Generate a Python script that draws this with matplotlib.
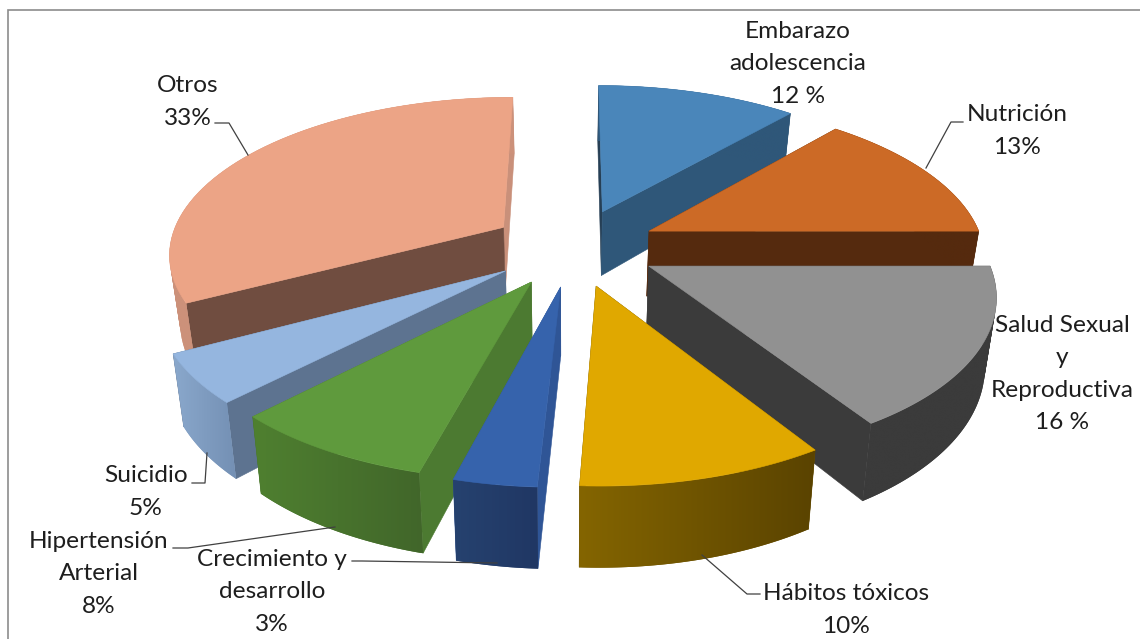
#!/usr/bin/env python3
"""Exploded 3D pie, drawn by hand with a simple perspective projection."""

import numpy as np
import matplotlib
matplotlib.use('Agg')
import matplotlib.pyplot as plt
from matplotlib.colors import to_rgb
from matplotlib.patches import PathPatch, Rectangle
from matplotlib.path import Path

# ---------------------------------------------------------------------
# DATA
# ---------------------------------------------------------------------

CATEGORIES = ['Embarazo', 'Nutrición', 'Salud', 'Hábitos', 'Crecimiento',
              'Hipertensión', 'Suicidio', 'Otros']
# the printed labels are rounded
VALUES = [11.4, 13.6, 16, 9.8, 3.3, 8.2, 4.9, 32.8]
LABELS = ['Embarazo\nadolescencia\n12 %', 'Nutrición\n13%',
          'Salud Sexual\ny\nReproductiva\n16 %', 'Hábitos tóxicos\n10%',
          'Crecimiento y\ndesarrollo\n3%', 'Hipertensión\nArterial\n8%',
          'Suicidio\n5%', 'Otros\n33%']

# ---------------------------------------------------------------------
# STYLE
# ---------------------------------------------------------------------

TOP_COLORS = ['#4a86ba', '#cc6a26', '#919191', '#e0a800', '#3663ac', '#5f9a3d', '#95b6df', '#eca486']
WALL_COLORS = ['#2f5779', '#552a0e', '#3b3b3b', '#5c4500', '#2f5596', '#4c7a31', '#5d7390', '#704d40']
BACK_WALL_COLORS = ['#263f55', '#552a0e', '#3b3b3b', '#5c4500', '#2f5596', '#4c7a31', '#5d7390', '#c9907a']
OUTER_LEFT = ['#2f5779', '#552a0e', '#3b3b3b', '#846500', '#26426f', '#4f8030', '#8aa8cc', '#cc917a']
OUTER_RIGHT = ['#2f5779', '#552a0e', '#3b3b3b', '#5a4300', '#203764', '#41662a', '#7490b4', '#cc917a']
DRAW_ORDER = [7, 0, 1, 2, 6, 5, 4, 3]

LABEL_POS = [(798, 64), (1017, 131), (1062, 374), (846, 610), (272, 592), (99, 574), (146, 492), (188, 102)]
LEADERS = [
    [(963, 122), (951, 122), (926, 168)],
    [(702, 555), (747, 594), (760, 594)],
    [(497, 563), (362, 561), (352, 561)],
    [(335, 527), (188, 548), (173, 548)],
    [(207, 453), (205, 483), (192, 483)],
    [(248, 155), (229, 123), (215, 123)],
]

CX, CY = 574.0, 247.0
SCALE_X, SCALE_Y = 335.0, 155.7
PERSP = 0.154
EXPLODE = 0.25
DEPTH = 66.0
VANISH_X = 565.0
BOTTOM_SHRINK = 0.973
N_ARC = 60


def project(x, y):
    s = 1.0 / (1.0 - PERSP * y)
    return CX + SCALE_X * x * s, CY + SCALE_Y * y * s, s


def bottom(x, y, s):
    return VANISH_X + (x - VANISH_X) * BOTTOM_SHRINK, y + DEPTH * s


def rim_path(sx, sy, bx, by):
    # one quad per arc step, all wound the same way so the union fills
    quads = []
    for j in range(len(sx) - 1):
        q = np.array([(sx[j], sy[j]), (sx[j + 1], sy[j + 1]),
                      (bx[j + 1], by[j + 1]), (bx[j], by[j]), (sx[j], sy[j])])
        area = np.sum(q[:-1, 0] * q[1:, 1] - q[1:, 0] * q[:-1, 1])
        if area < 0:
            q = q[::-1]
        quads.append(Path(q, closed=True))
    return Path.make_compound_path(*quads)


def draw_slice(ax, i, start, end, z):
    mid = np.radians((start + end) / 2.0)
    ox, oy = EXPLODE * np.sin(mid), -EXPLODE * np.cos(mid)
    theta = np.radians(np.linspace(start, end, N_ARC))
    ax_x, ax_y, ax_s = project(ox, oy)
    sx, sy, ss = project(ox + np.sin(theta), oy - np.cos(theta))
    bx, by = bottom(sx, sy, ss)
    ax_bx, ax_by = bottom(ax_x, ax_y, ax_s)

    def wall(j):
        return [(ax_x, ax_y), (sx[j], sy[j]), (bx[j], by[j]), (ax_bx, ax_by)]

    # hidden wall first, then the one facing the viewer
    walls = [wall(0), wall(-1)]
    if sy[0] > sy[-1]:
        walls.reverse()
    ax.fill(*zip(*walls[0]), color=BACK_WALL_COLORS[i], lw=0.4, zorder=z)
    ax.fill(*zip(*walls[1]), color=WALL_COLORS[i], lw=0.4, zorder=z + 0.1)

    # outer rim, horizontal gradient clipped to the swept arc
    xs = np.r_[sx, bx]
    ys = np.r_[sy, by]
    c0 = np.array(to_rgb(OUTER_LEFT[i]))
    c1 = np.array(to_rgb(OUTER_RIGHT[i]))
    path = rim_path(sx, sy, bx, by)
    # solid backing hides the hairline at the clip edge
    ax.add_patch(PathPatch(path, fc=(c0 + c1) / 2, ec='none', zorder=z + 0.15))
    grad = c0 + (c1 - c0) * np.linspace(0, 1, 256)[:, None]
    img = ax.imshow(grad[None, :, :], aspect='auto', interpolation='bilinear', zorder=z + 0.2,
                    extent=(xs.min(), xs.max(), ys.max(), ys.min()))
    patch = PathPatch(path, fc='none', ec='none', transform=ax.transData)
    ax.add_patch(patch)
    img.set_clip_path(patch)

    top = [(ax_x, ax_y)] + list(zip(sx, sy))
    ax.fill(*zip(*top), color=TOP_COLORS[i], lw=0.4, zorder=z + 0.3)


def main():
    plt.rcParams['font.family'] = ['Lato', 'DejaVu Sans']
    fig = plt.figure(figsize=(11.4, 6.39), dpi=100)
    ax = fig.add_axes([0, 0, 1, 1])
    ax.axis('off')

    ax.add_patch(Rectangle((7.5, 10), 1200, 700, fc='white', ec='#8c8c8c', lw=1.2, zorder=0))

    edges = np.concatenate([[0.0], np.cumsum(VALUES)]) * 360.0 / sum(VALUES)
    # painter's order so the front slices cover the back ones
    for n, i in enumerate(DRAW_ORDER):
        draw_slice(ax, i, edges[i], edges[i + 1], 2 + n)

    for pts in LEADERS:
        ax.plot(*zip(*pts), color='#404040', lw=0.9, zorder=20)

    for label, (lx, ly) in zip(LABELS, LABEL_POS):
        ax.text(lx, ly, label, ha='center', va='center', fontsize=17.6,
                color='#1e1e1e', linespacing=1.65, zorder=21)

    # imshow moves the limits, so set them last
    ax.set_xlim(0, 1140)
    ax.set_ylim(639, 0)

    fig.savefig('out.png', dpi=100, facecolor='white')
    plt.close(fig)


if __name__ == '__main__':
    main()
